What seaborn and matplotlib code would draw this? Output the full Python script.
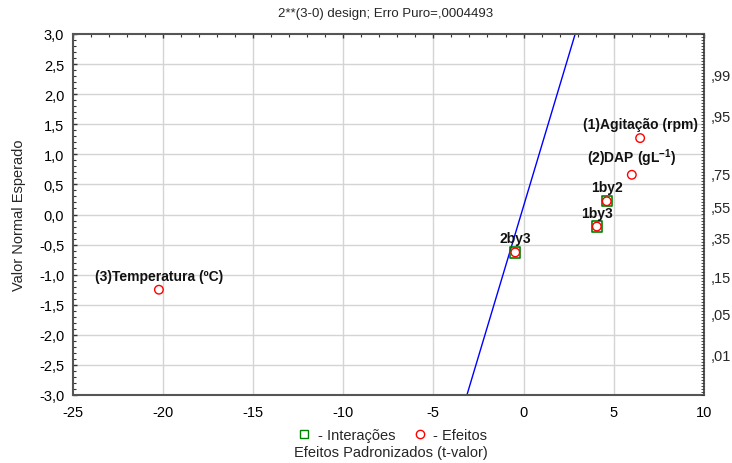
import matplotlib
matplotlib.use("Agg")
import matplotlib.pyplot as plt
from matplotlib.ticker import MultipleLocator
from matplotlib.lines import Line2D
import seaborn as sns
import pandas as pd
from statistics import NormalDist

# ---- data ----
labels = ["(3)Temperatura (ºC)", "2by3", "1by3", "1by2", "(2)DAP (gL$^{-1}$)", "(1)Agitação (rpm)"]
t_values = [-20.21, -0.46, 4.06, 4.61, 6.00, 6.46]
normal_values = [-1.25, -0.63, -0.20, 0.22, 0.66, 1.27]
kinds = ["Efeito", "Interação", "Interação", "Interação", "Efeito", "Efeito"]
line_slope = 1.0
line_intercept = 0.14
prob_ticks = [0.01, 0.05, 0.15, 0.35, 0.55, 0.75, 0.95, 0.99]
prob_labels = [",01", ",05", ",15", ",35", ",55", ",75", ",95", ",99"]
x_ticks = [-25, -20, -15, -10, -5, 0, 5, 10]
y_ticks = [-3.0, -2.5, -2.0, -1.5, -1.0, -0.5, 0.0, 0.5, 1.0, 1.5, 2.0, 2.5, 3.0]
title = "2**(3-0) design; Erro Puro=,0004493"
xlabel = "Efeitos Padronizados (t-valor)"
ylabel = "Valor Normal Esperado"

df = pd.DataFrame({"label": labels, "t": t_values, "z": normal_values, "kind": kinds})

sns.set_theme(style="white")
plt.rcParams["font.family"] = ["Liberation Sans", "DejaVu Sans"]
plt.rcParams["mathtext.default"] = "regular"

FS = 10.5

fig = plt.figure(figsize=(7.32, 4.64), dpi=100)
ax = fig.add_axes([72.5 / 732, 1 - 396 / 464, (704 - 72.5) / 732, (396 - 35) / 464])

ax.set_xlim(-25, 10)
ax.set_ylim(-3, 3)

# grid
for xv in x_ticks[1:-1]:
    ax.axvline(xv, color="#d4d4d4", lw=1, zorder=0)
for yv in y_ticks[1:-1]:
    ax.axhline(yv, color="#d4d4d4", lw=1, zorder=0)

# fitted line
ax.axline((0, line_intercept), slope=line_slope, color="#0000ff", lw=1, zorder=2)

inter = df[df["kind"] == "Interação"]
sns.scatterplot(data=inter, x="t", y="z", ax=ax, marker="s", s=55,
                facecolor="none", edgecolor="#008000", linewidth=1.2, zorder=3, legend=False)
sns.scatterplot(data=df, x="t", y="z", ax=ax, marker="o", s=38,
                facecolor="none", edgecolor="#ff0000", linewidth=1.0, zorder=4, legend=False)

for _, r in df.iterrows():
    ax.annotate(r["label"], (r["t"], r["z"]), xytext=(0, 5), textcoords="offset points",
                ha="center", va="bottom", fontsize=10, fontweight="bold", color="#111111", zorder=5)

ax.set_xticks(x_ticks)
ax.set_xticklabels([str(v) for v in x_ticks])
ax.set_yticks(y_ticks)
ax.set_yticklabels([f"{v:.1f}".replace(".", ",") for v in y_ticks])
ax.xaxis.set_minor_locator(MultipleLocator(1))
ax.yaxis.set_minor_locator(MultipleLocator(0.1))
ax.tick_params(axis="both", which="both", direction="in", labelsize=FS, colors="#333333",
               labelcolor="black", top=True)
ax.tick_params(which="major", length=3, width=1)
ax.tick_params(which="minor", length=2, width=0.8)
ax.tick_params(axis="x", which="major", pad=7)
ax.tick_params(axis="y", which="major", pad=6)
ax.set_xlabel("")
ax.set_ylabel("")

for s in ax.spines.values():
    s.set_color("#555555")
    s.set_linewidth(1.5)
    s.set_visible(True)

# right probability axis
ax2 = ax.twinx()
ax2.set_ylim(-3, 3)
nd = NormalDist()
ax2.set_yticks([nd.inv_cdf(p) for p in prob_ticks])
ax2.set_yticklabels(prob_labels)
ax2.yaxis.set_minor_locator(MultipleLocator(0.05))
ax2.tick_params(axis="y", which="major", direction="in", length=0, labelsize=FS, pad=5)
ax2.tick_params(axis="y", which="minor", direction="in", length=2, width=0.6, colors="#333333")
for s in ax2.spines.values():
    s.set_visible(False)

fig.text(386 / 732, 1 - 14 / 464, title, ha="center", va="center", fontsize=9.5)
fig.text(19 / 732, 1 - 215 / 464, ylabel, ha="center", va="center", rotation=90, fontsize=FS)

handles = [
    Line2D([], [], marker="s", color="none", markerfacecolor="none", markeredgecolor="#008000",
           markersize=6, label="- Interações"),
    Line2D([], [], marker="o", color="none", markerfacecolor="none", markeredgecolor="#ff0000",
           markersize=6, label="- Efeitos"),
]
fig.legend(handles=handles, loc="center", bbox_to_anchor=(392 / 732, 1 - 436 / 464), ncol=2,
           frameon=False, fontsize=FS, handlelength=1.0, handletextpad=0.4, columnspacing=1.2,
           borderaxespad=0, borderpad=0)
fig.text(391 / 732, 1 - 453 / 464, xlabel, ha="center", va="center", fontsize=FS)

fig.savefig("out.png", dpi=100)
